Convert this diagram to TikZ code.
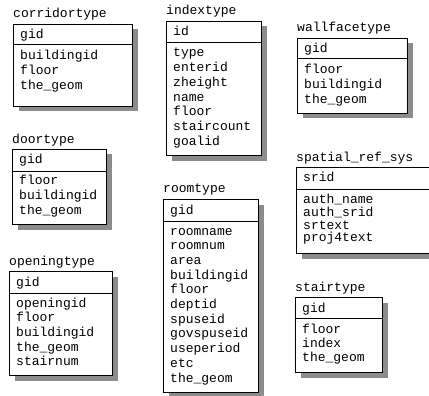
\documentclass[tikz,border=0pt]{standalone}
\usepackage{fontspec}
\setmonofont{Liberation Mono}
\usepackage{tikz}
\usetikzlibrary{shadows, calc}

\begin{document}
\begin{tikzpicture}[
    x=1pt, y=-1pt,
    tabbox/.style={draw=black, line width=1pt, fill=white, anchor=north west, inner sep=0pt,
      general shadow={shadow xshift=5pt, shadow yshift=-5pt, fill=black!45}},
    tabtitle/.style={anchor=base west, inner sep=0pt, font=\ttfamily\fontsize{13}{14.7}\selectfont},
    tabkey/.style={tabtitle},
    tabfield/.style={tabtitle},
    tabsep/.style={line width=1pt}
  ]
  \useasboundingbox (0,0) rectangle (429,396);

  % corridortype
  \node[tabbox, minimum width=119, minimum height=82] (corridor) at (13,24) {};
  \node[tabtitle] (corridor-title) at ($(corridor.north west)+(0,-6)$) {corridortype};
  \node[tabkey] (corridor-key) at ($(corridor.north west)+(7,15)$) {gid};
  \draw[tabsep] ($(corridor.north west)+(0,21)$) -- ($(corridor.north east)+(0,21)$);
  \foreach \f [count=\i] in {buildingid, floor, the\_geom}
    \node[tabfield] (corridor-f\i) at ($(corridor.north west)+(7,{36+(\i-1)*14.7})$) {\f};

  % indextype
  \node[tabbox, minimum width=95, minimum height=134] (index) at (166,21) {};
  \node[tabtitle] (index-title) at ($(index.north west)+(0,-6)$) {indextype};
  \node[tabkey] (index-key) at ($(index.north west)+(7,15)$) {id};
  \draw[tabsep] ($(index.north west)+(0,22)$) -- ($(index.north east)+(0,22)$);
  \foreach \f [count=\i] in {type, enterid, zheight, name, floor, staircount, goalid}
    \node[tabfield] (index-f\i) at ($(index.north west)+(7,{36+(\i-1)*14.7})$) {\f};

  % wallfacetype
  \node[tabbox, minimum width=110, minimum height=75] (wallface) at (297,38) {};
  \node[tabtitle] (wallface-title) at ($(wallface.north west)+(0,-6)$) {wallfacetype};
  \node[tabkey] (wallface-key) at ($(wallface.north west)+(7,15)$) {gid};
  \draw[tabsep] ($(wallface.north west)+(0,21)$) -- ($(wallface.north east)+(0,21)$);
  \foreach \f [count=\i] in {floor, buildingid, the\_geom}
    \node[tabfield] (wallface-f\i) at ($(wallface.north west)+(7,{36+(\i-1)*14.7})$) {\f};

  % doortype
  \node[tabbox, minimum width=94, minimum height=75] (door) at (12,149) {};
  \node[tabtitle] (door-title) at ($(door.north west)+(0,-6)$) {doortype};
  \node[tabkey] (door-key) at ($(door.north west)+(7,15)$) {gid};
  \draw[tabsep] ($(door.north west)+(0,22)$) -- ($(door.north east)+(0,22)$);
  \foreach \f [count=\i] in {floor, buildingid, the\_geom}
    \node[tabfield] (door-f\i) at ($(door.north west)+(7,{36+(\i-1)*14.7})$) {\f};

  % spatial_ref_sys (runs past the right edge, rows set closer)
  \node[tabbox, minimum width=140, minimum height=86] (spatial) at (296,167) {};
  \node[tabtitle] (spatial-title) at ($(spatial.north west)+(0,-6)$) {spatial\_ref\_sys};
  \node[tabkey] (spatial-key) at ($(spatial.north west)+(7,15)$) {srid};
  \draw[tabsep] ($(spatial.north west)+(0,22)$) -- ($(spatial.north east)+(0,22)$);
  \foreach \f [count=\i] in {auth\_name, auth\_srid, srtext, proj4text}
    \node[tabfield] (spatial-f\i) at ($(spatial.north west)+(7,{37+(\i-1)*12.6})$) {\f};

  % roomtype
  \node[tabbox, minimum width=95, minimum height=193] (room) at (163,199) {};
  \node[tabtitle] (room-title) at ($(room.north west)+(0,-6)$) {roomtype};
  \node[tabkey] (room-key) at ($(room.north west)+(7,15)$) {gid};
  \draw[tabsep] ($(room.north west)+(0,22)$) -- ($(room.north east)+(0,22)$);
  \foreach \f [count=\i] in {roomname, roomnum, area, buildingid, floor, deptid,
      spuseid, govspuseid, useperiod, etc, the\_geom}
    \node[tabfield] (room-f\i) at ($(room.north west)+(7,{36+(\i-1)*14.7})$) {\f};

  % openingtype
  \node[tabbox, minimum width=103, minimum height=104] (opening) at (9,271) {};
  \node[tabtitle] (opening-title) at ($(opening.north west)+(0,-6)$) {openingtype};
  \node[tabkey] (opening-key) at ($(opening.north west)+(7,15)$) {gid};
  \draw[tabsep] ($(opening.north west)+(0,22)$) -- ($(opening.north east)+(0,22)$);
  \foreach \f [count=\i] in {openingid, floor, buildingid, the\_geom, stairnum}
    \node[tabfield] (opening-f\i) at ($(opening.north west)+(7,{36+(\i-1)*14.7})$) {\f};

  % stairtype
  \node[tabbox, minimum width=87, minimum height=75] (stair) at (295,297) {};
  \node[tabtitle] (stair-title) at ($(stair.north west)+(0,-6)$) {stairtype};
  \node[tabkey] (stair-key) at ($(stair.north west)+(7,15)$) {gid};
  \draw[tabsep] ($(stair.north west)+(0,21)$) -- ($(stair.north east)+(0,21)$);
  \foreach \f [count=\i] in {floor, index, the\_geom}
    \node[tabfield] (stair-f\i) at ($(stair.north west)+(7,{36+(\i-1)*14})$) {\f};
\end{tikzpicture}
\end{document}
